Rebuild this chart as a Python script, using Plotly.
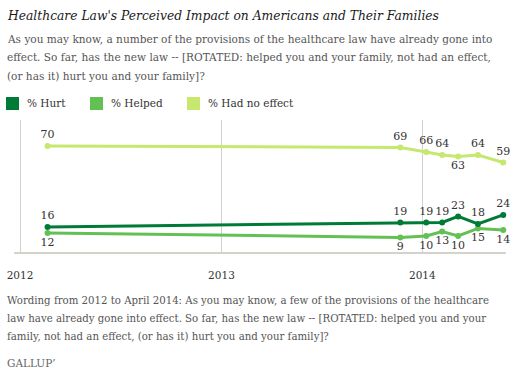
import plotly.graph_objects as go

dates = ["2012-02-20", "2013-11-22", "2014-01-08", "2014-02-06", "2014-03-07", "2014-04-12", "2014-05-28"]
hurt = [16, 19, 19, 19, 23, 18, 24]
helped = [12, 9, 10, 13, 10, 15, 14]
no_effect = [70, 69, 66, 64, 63, 64, 59]
no_effect_pos = ["top center", "top center", "top center", "top center", "bottom center", "top center", "top center"]
tick_vals = ["2012-01-01", "2013-01-01", "2014-01-01"]
tick_text = ["2012", "2013", "2014"]

SERIF = "DejaVu Serif"
C_HURT = "#007a37"
C_HELP = "#62c152"
C_NONE = "#c6e86e"

W, H = 527, 379
ML, MR, MT, MB = 14, 21, 120, 127

fig = go.Figure()

def add(name, vals, color, pos):
    fig.add_trace(go.Scatter(
        x=dates, y=vals, name=name, mode="lines+markers+text",
        line=dict(color=color, width=3), marker=dict(color=color, size=6),
        text=[str(v) for v in vals], textposition=pos,
        textfont=dict(family=SERIF, size=11, color="#333333"),
        showlegend=False, cliponaxis=False, hoverinfo="skip"))

add("% Had no effect", no_effect, C_NONE, no_effect_pos)
add("% Helped", helped, C_HELP, "bottom center")
add("% Hurt", hurt, C_HURT, "top center")

fig.update_layout(
    width=W, height=H,
    margin=dict(l=ML, r=MR, t=MT, b=MB, autoexpand=False),
    paper_bgcolor="white", plot_bgcolor="white",
    showlegend=False,
    xaxis=dict(type="date", range=["2011-12-21", "2014-06-02"],
               tickvals=tick_vals, ticktext=tick_text,
               showgrid=True, gridcolor="#d0d0d0", gridwidth=1,
               showline=True, linecolor="#d3d3cb", linewidth=2,
               ticks="", ticklabelstandoff=12, automargin=False,
               tickfont=dict(family=SERIF, size=10.5, color="#333333"),
               zeroline=False, fixedrange=True),
    yaxis=dict(range=[-0.7, 87.3], visible=False, showgrid=False, zeroline=False, fixedrange=True),
)

sub = ["As you may know, a number of the provisions of the healthcare law have already gone into",
       "effect. So far, has the new law -- [ROTATED: helped you and your family, not had an effect,",
       "(or has it) hurt you and your family]?"]
foot = ["Wording from 2012 to April 2014: As you may know, a few of the provisions of the healthcare",
        "law have already gone into effect. So far, has the new law -- [ROTATED: helped you and your",
        "family, not had an effect, (or has it) hurt you and your family]?"]

annotations = []
def px(x, y):
    return ((x - ML) / (W - ML - MR), 1 - (y - MT) / (H - MT - MB))

def t(s, x, y, size, color, xanchor="left"):
    xx, yy = px(x, y)
    annotations.append(dict(text=s, x=xx, y=yy, xref="paper", yref="paper",
                            xanchor=xanchor, yanchor="middle", showarrow=False,
                            font=dict(family=SERIF, size=size, color=color)))

t("<i>Healthcare Law's Perceived Impact on Americans and Their Families</i>", 5, 16, 12.3, "#1a1a1a")
for i, s in enumerate(sub):
    t(s, 5, 39 + i * 18.5, 10.55, "#555555")
for i, s in enumerate(foot):
    t(s, 5, 300 + i * 18.3, 10.2, "#555555")
t("GALLUP\u2019", 5, 363, 10.5, "#666666")

legend = [("% Hurt", C_HURT, 6), ("% Helped", C_HELP, 90), ("% Had no effect", C_NONE, 187)]
shapes = []
for name, color, x0 in legend:
    a0, b0 = px(x0, 97)
    a1, b1 = px(x0 + 13, 110)
    shapes.append(dict(type="rect", xref="paper", yref="paper", x0=a0, x1=a1, y0=b1, y1=b0,
                       fillcolor=color, line=dict(width=0)))
    t(name, x0 + 19, 103, 10.5, "#333333")

fig.update_layout(annotations=annotations, shapes=shapes)
fig.write_html("out.html", config={"displayModeBar": False},
               post_script="document.body.style.margin='0';document.body.style.overflow='hidden';")
